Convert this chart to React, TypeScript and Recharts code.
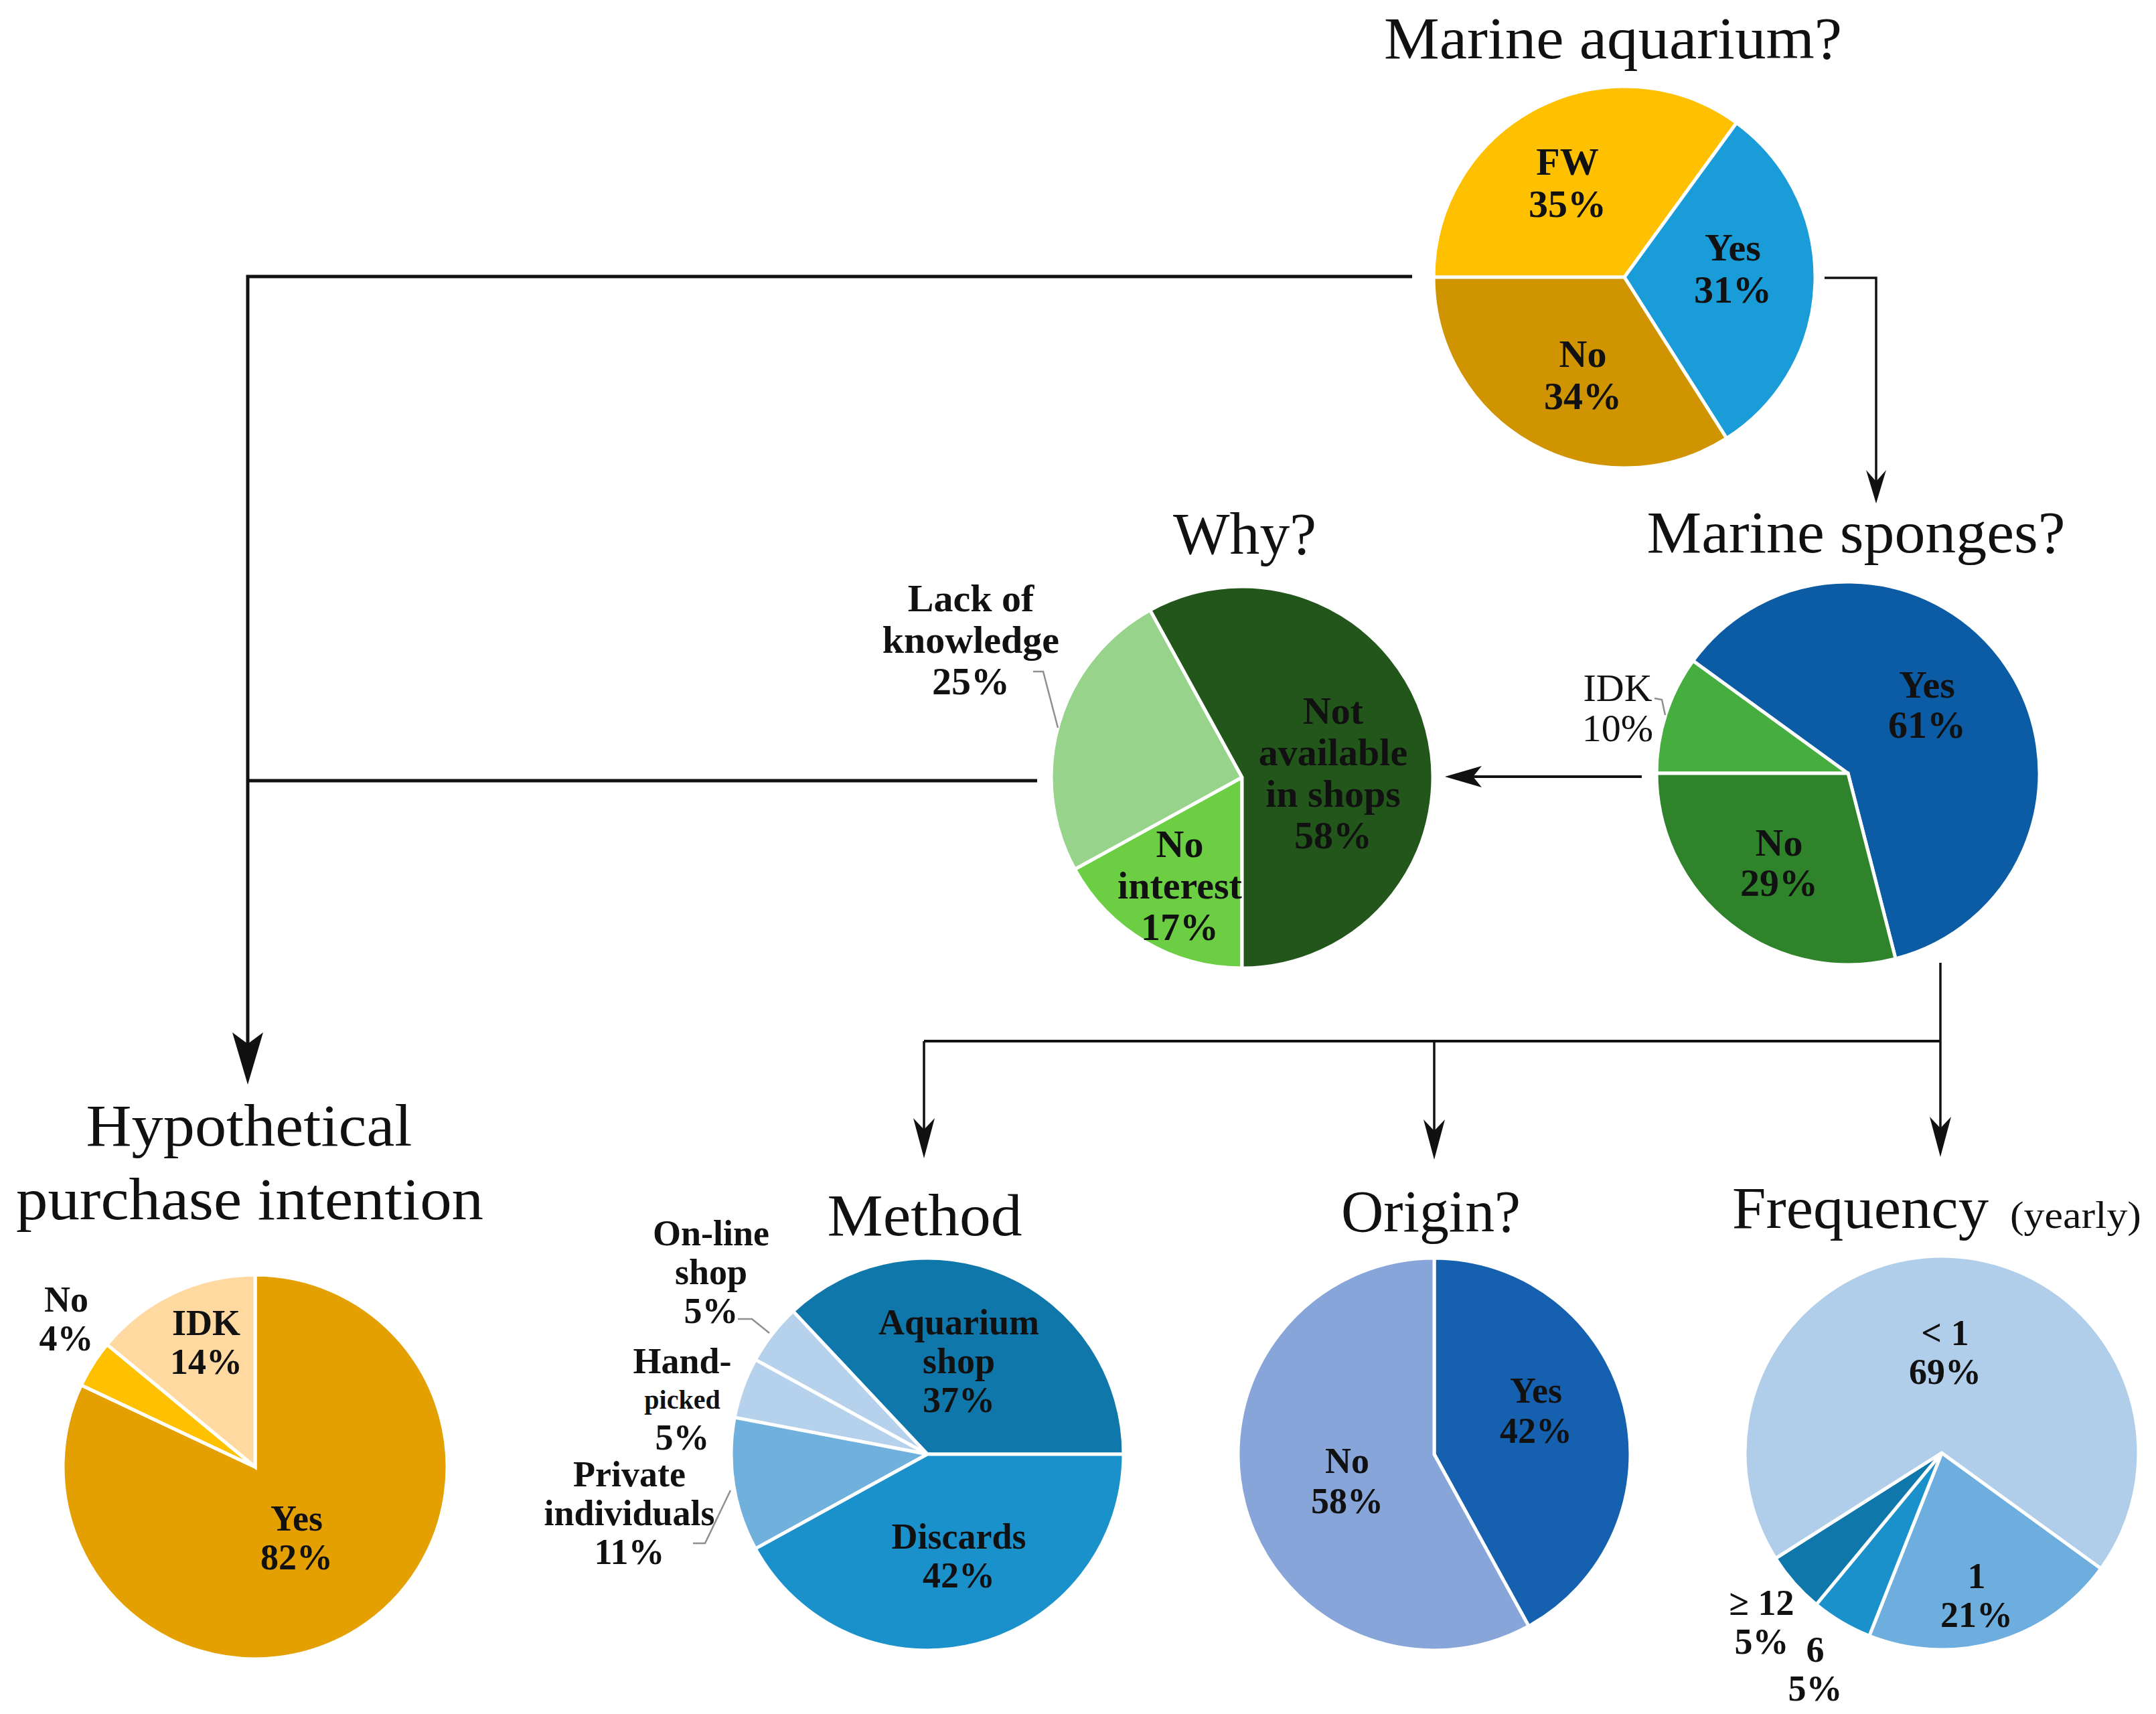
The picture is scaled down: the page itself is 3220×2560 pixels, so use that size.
import { PieChart, Pie, Cell } from "recharts";

// ---- data (percent of respondents) ----
const aquariumNames = ["FW", "Yes", "No"];
const aquariumValues = [35, 31, 34];

const spongeNames = ["IDK", "Yes", "No"];
const spongeValues = [10, 61, 29];

const whyNames = ["No\ninterest", "Lack of\nknowledge", "Not\navailable\nin shops"];
const whyValues = [17, 25, 58];

const purchaseNames = ["Yes", "No", "IDK"];
const purchaseValues = [82, 4, 14];

const methodNames = ["Aquarium\nshop", "On-line\nshop", "Hand-\npicked", "Private\nindividuals", "Discards"];
const methodValues = [37, 5, 5, 11, 42];

const originNames = ["Yes", "No"];
const originValues = [42, 58];

const freqNames = ["1", "6", "≥ 12", "< 1"];
const freqValues = [21, 5, 5, 69];

type Slice = { name: string; value: number };
const toSlices = (names: string[], values: number[]): Slice[] =>
  names.map((name, i) => ({ name, value: values[i] }));

const aquariumData = toSlices(aquariumNames, aquariumValues);
const spongeData = toSlices(spongeNames, spongeValues);
const whyData = toSlices(whyNames, whyValues);
const purchaseData = toSlices(purchaseNames, purchaseValues);
const methodData = toSlices(methodNames, methodValues);
const originData = toSlices(originNames, originValues);
const freqData = toSlices(freqNames, freqValues);

const FONT = "'Liberation Serif', 'Times New Roman', serif";

type LabelCfg = {
  dx: number;
  dy: number;
  weight?: number;
  sizes?: number[];
  lh?: number;
  leader?: [number, number][];
};

const renderLabel =
  (data: Slice[], cfgs: LabelCfg[], size: number, lineHeight: number) =>
  (props: any) => {
    const { cx, cy, index } = props;
    const d = data[index];
    const c = cfgs[index];
    const lines = [...d.name.split("\n"), `${d.value}%`];
    const sizes = c.sizes ?? lines.map(() => size);
    const lh = c.lh ?? lineHeight;
    const x = cx + c.dx;
    const top = cy + c.dy - (lh * (lines.length - 1)) / 2;
    return (
      <g key={`lbl-${index}`}>
        {c.leader && (
          <polyline
            points={c.leader.map(([a, b]) => `${cx + a},${cy + b}`).join(" ")}
            fill="none"
            stroke="#8f8f8f"
            strokeWidth={2.5}
          />
        )}
        <text textAnchor="middle" fontFamily={FONT} fontWeight={c.weight ?? 700} fill="#111">
          {lines.map((t, i) => (
            <tspan key={i} x={x} y={top + i * lh + sizes[i] * 0.34} fontSize={sizes[i]}>
              {t}
            </tspan>
          ))}
        </text>
      </g>
    );
  };

const aquariumLabels: LabelCfg[] = [
  { dx: -85, dy: -141 },
  { dx: 162, dy: -13 },
  { dx: -62, dy: 146 },
];
const spongeLabels: LabelCfg[] = [
  { dx: -344, dy: -98, weight: 400, leader: [[-289, -112], [-278, -110], [-273, -87]] },
  { dx: 118, dy: -103 },
  { dx: -103, dy: 133 },
];
const whyLabels: LabelCfg[] = [
  { dx: -93, dy: 161 },
  { dx: -405, dy: -206, leader: [[-312, -158], [-297, -158], [-275, -74]] },
  { dx: 136, dy: -7 },
];
const purchaseLabels: LabelCfg[] = [
  { dx: 62, dy: 106 },
  { dx: -282, dy: -221 },
  { dx: -73, dy: -186 },
];
const methodLabels: LabelCfg[] = [
  { dx: 47, dy: -139 },
  { dx: -323, dy: -272, leader: [[-283, -202], [-262, -202], [-236, -181]] },
  { dx: -366, dy: -82, sizes: [54, 40, 54], lh: 57 },
  { dx: -445, dy: 88, leader: [[-294, 54], [-332, 133], [-350, 133]] },
  { dx: 47, dy: 152 },
];
const originLabels: LabelCfg[] = [
  { dx: 152, dy: -65 },
  { dx: -130, dy: 40 },
];
const freqLabels: LabelCfg[] = [
  { dx: 52, dy: 213 },
  { dx: -189, dy: 323 },
  { dx: -269, dy: 253 },
  { dx: 5, dy: -150 },
];

const aquariumColors = ["#FFC000", "#199CD8", "#CF9400"];
const spongeColors = ["#46AD3F", "#0B5CA5", "#2F842B"];
const whyColors = ["#6BCE43", "#98D38B", "#22561A"];
const purchaseColors = ["#E4A000", "#FFC000", "#FFD9A0"];
const methodColors = ["#1077AB", "#B5D1EC", "#B5D1EC", "#70B0DD", "#1A91CA"];
const originColors = ["#1561B0", "#87A5D8"];
const freqColors = ["#6EAEDE", "#1A91CA", "#1077AB", "#B0CEEA"];

type PieSpec = {
  id: string;
  data: Slice[];
  colors: string[];
  labels: LabelCfg[];
  cx: number;
  cy: number;
  r: number;
  start: number;
  end: number;
  size: number;
  lh: number;
};

const pies: PieSpec[] = [
  { id: "aquarium", data: aquariumData, colors: aquariumColors, labels: aquariumLabels, cx: 2426, cy: 414, r: 285, start: 180, end: -180, size: 58, lh: 63 },
  { id: "sponges", data: spongeData, colors: spongeColors, labels: spongeLabels, cx: 2760, cy: 1155, r: 286, start: 180, end: -180, size: 58, lh: 60 },
  { id: "why", data: whyData, colors: whyColors, labels: whyLabels, cx: 1855, cy: 1161, r: 285, start: 270, end: -90, size: 58, lh: 62 },
  { id: "purchase", data: purchaseData, colors: purchaseColors, labels: purchaseLabels, cx: 381, cy: 2191, r: 287, start: 90, end: -270, size: 54, lh: 58 },
  { id: "method", data: methodData, colors: methodColors, labels: methodLabels, cx: 1385, cy: 2172, r: 293, start: 0, end: 360, size: 54, lh: 58 },
  { id: "origin", data: originData, colors: originColors, labels: originLabels, cx: 2142, cy: 2172, r: 293, start: 90, end: -270, size: 54, lh: 60 },
  { id: "freq", data: freqData, colors: freqColors, labels: freqLabels, cx: 2900, cy: 2170, r: 294, start: -36, end: -396, size: 54, lh: 58 },
];

const titles = [
  { text: "Marine aquarium?", x: 2409, y: 87, w: 684 },
  { text: "Marine sponges?", x: 2772, y: 825, w: 625 },
  { text: "Why?", x: 1859, y: 827, w: 214 },
  { text: "Hypothetical", x: 372, y: 1711, w: 487 },
  { text: "purchase intention", x: 373, y: 1821, w: 698 },
  { text: "Method", x: 1381, y: 1845, w: 291 },
  { text: "Origin?", x: 2137, y: 1839, w: 268 },
];

const arrowDown = (x: number, tip: number, len = 60, half = 16) =>
  `${x},${tip} ${x - half},${tip - len} ${x},${tip - len + 17} ${x + half},${tip - len}`;

function Flow() {
  return (
    <svg
      width={3220}
      height={2560}
      style={{ position: "absolute", left: 0, top: 0, pointerEvents: "none" }}
    >
      <g stroke="#111" fill="none" strokeLinejoin="miter">
        <polyline points="2109,413 370,413 370,1570" strokeWidth={5} />
        <line x1={1549} y1={1166} x2={370} y2={1166} strokeWidth={5} />
        <polyline points="2725,415 2802,415 2802,720" strokeWidth={3.5} />
        <line x1={2452} y1={1160} x2={2200} y2={1160} strokeWidth={4} />
        <line x1={2898} y1={1438} x2={2898} y2={1690} strokeWidth={3.5} />
        <line x1={1380} y1={1555} x2={2898} y2={1555} strokeWidth={4} />
        <line x1={1380} y1={1555} x2={1380} y2={1690} strokeWidth={3.5} />
        <line x1={2142} y1={1555} x2={2142} y2={1690} strokeWidth={3.5} />
      </g>
      <g fill="#111">
        <polygon points={arrowDown(370, 1620, 78, 23)} />
        <polygon points={arrowDown(2802, 752, 50, 15)} />
        <polygon points="2158,1160 2213,1144 2200,1160 2213,1176" />
        <polygon points={arrowDown(1380, 1730)} />
        <polygon points={arrowDown(2142, 1732)} />
        <polygon points={arrowDown(2898, 1728)} />
      </g>
      <g fontFamily={FONT} fill="#111" fontSize={88}>
        {titles.map((t) => (
          <text
            key={t.text}
            x={t.x}
            y={t.y}
            textAnchor="middle"
            textLength={t.w}
            lengthAdjust="spacingAndGlyphs"
          >
            {t.text}
          </text>
        ))}
        <text x={2587} y={1834} textLength={383} lengthAdjust="spacingAndGlyphs">
          Frequency
        </text>
        <text x={3002} y={1834} fontSize={58} textLength={196} lengthAdjust="spacingAndGlyphs">
          (yearly)
        </text>
      </g>
    </svg>
  );
}

export default function App() {
  return (
    <div
      style={{
        position: "absolute",
        left: 0,
        top: 0,
        width: 3220,
        height: 2560,
        background: "#fff",
      }}
    >
      <PieChart width={3220} height={2560} margin={{ top: 0, right: 0, bottom: 0, left: 0 }}>
        {pies.map((p) => (
          <Pie
            key={p.id}
            data={p.data}
            dataKey="value"
            nameKey="name"
            cx={p.cx}
            cy={p.cy}
            outerRadius={p.r}
            startAngle={p.start}
            endAngle={p.end}
            stroke="#fff"
            strokeWidth={5}
            label={renderLabel(p.data, p.labels, p.size, p.lh)}
            labelLine={false}
            isAnimationActive={false}
          >
            {p.data.map((d, i) => (
              <Cell key={d.name} fill={p.colors[i]} />
            ))}
          </Pie>
        ))}
      </PieChart>
      <Flow />
    </div>
  );
}
